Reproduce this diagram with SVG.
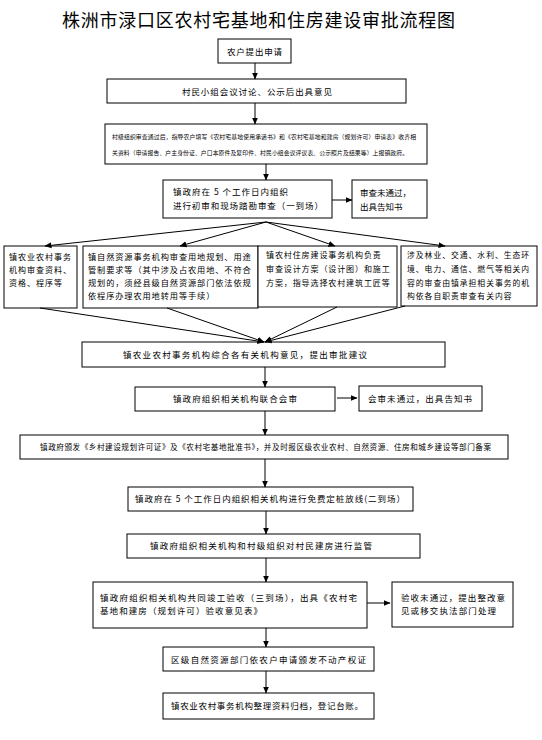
<svg xmlns="http://www.w3.org/2000/svg" width="542" height="740" viewBox="0 0 542 740">
<defs>
<marker id="ah" markerWidth="7" markerHeight="7" refX="6.5" refY="3.5" orient="auto" markerUnits="userSpaceOnUse">
<path d="M0,0.5 L7,3.5 L0,6.5 Z" fill="#000"/>
</marker>
<style>
rect{fill:#fff;stroke:#000;stroke-width:1}
text{font-family:"Noto Sans CJK SC","Noto Sans",sans-serif;font-size:8.5px;fill:#000}
.t{font-size:18px;font-weight:normal}
.s{font-size:5.8px}
.a{font-size:8px;letter-spacing:1px}
.b{font-size:8.2px;letter-spacing:0.9px}
.cc{font-size:8px;letter-spacing:0.9px}
.d{font-size:7.8px;letter-spacing:1px}
.c line{stroke:#000;stroke-width:1;marker-end:url(#ah)}
</style>
</defs>
<rect x="0" y="0" width="542" height="740" style="fill:#fff;stroke:none"/>
<text class="t" x="62" y="27" textLength="393">株洲市渌口区农村宅基地和住房建设审批流程图</text>

<g id="n1"><rect x="218" y="39" width="73" height="24"/><text x="227" y="55" textLength="55">农户提出申请</text></g>
<g id="n2"><rect x="107" y="79" width="299" height="24"/><text x="182" y="95" textLength="150">村民小组会议讨论、公示后出具意见</text></g>
<g id="n3"><rect x="105" y="124" width="322" height="40"/>
<text class="s" x="112" y="139" textLength="304">村级组织审查通过后，指导农户填写《农村宅基地使用承诺书》和《农村宅基地和建房（规划许可）申请表》收齐相</text>
<text class="s" x="112" y="155" textLength="296">关资料（申请报告、户主身份证、户口本原件及复印件、村民小组会议评议表、公示照片及结果等）上报镇政府。</text></g>
<g id="n4"><rect x="163" y="180" width="169" height="38"/>
<text x="173" y="195" textLength="115">镇政府在 5 个工作日内组织</text>
<text x="173" y="209" textLength="150">进行初审和现场踏勘审查（一到场）</text></g>
<g id="n4r"><rect x="352" y="180" width="75" height="38"/>
<text x="360" y="196">审查未通过，</text>
<text x="360" y="210">出具告知书</text></g>

<g id="nA"><rect x="4" y="246" width="73" height="62"/>
<text class="a" x="9" y="260">镇农业农村事务</text>
<text class="a" x="9" y="273">机构审查资料、</text>
<text class="a" x="9" y="286">资格、程序等</text></g>
<g id="nB"><rect x="83" y="246" width="175" height="62"/>
<text class="b" x="88" y="260">镇自然资源事务机构审查用地规划、用途</text>
<text class="b" x="88" y="273">管制要求等（其中涉及占农用地、不符合</text>
<text class="b" x="88" y="286">规划的，须经县级自然资源部门依法依规</text>
<text class="b" x="88" y="299">依程序办理农用地转用等手续）</text></g>
<g id="nC"><rect x="258" y="246" width="139" height="61"/>
<text class="cc" x="266" y="258">镇农村住房建设事务机构负责</text>
<text class="cc" x="266" y="272">审查设计方案（设计图）和施工</text>
<text class="cc" x="266" y="286">方案，指导选择农村建筑工匠等</text></g>
<g id="nD"><rect x="401" y="246" width="136" height="60"/>
<text class="d" x="407" y="258">涉及林业、交通、水利、生态环</text>
<text class="d" x="407" y="272">境、电力、通信、燃气等相关内</text>
<text class="d" x="407" y="286">容的审查由镇承担相关事务的机</text>
<text class="d" x="407" y="299">构依各自职责审查有关内容</text></g>

<g id="n5"><rect x="82" y="342" width="363" height="25"/><text x="123" y="358" textLength="244">镇农业农村事务机构综合各有关机构意见，提出审批建议</text></g>
<g id="n6"><rect x="135" y="387" width="200" height="24"/><text x="173" y="402" textLength="124">镇政府组织相关机构联合会审</text></g>
<g id="n6r"><rect x="359" y="386" width="123" height="25"/><text x="368" y="402" textLength="104">会审未通过，出具告知书</text></g>
<g id="n7"><rect x="20" y="435" width="488" height="24"/><text x="40" y="450" textLength="451" style="font-size:7.6px">镇政府颁发《乡村建设规划许可证》及《农村宅基地批准书》，并及时报区级农业农村、自然资源、住房和城乡建设等部门备案</text></g>
<g id="n8"><rect x="128" y="487" width="285" height="24"/><text x="135" y="502" textLength="270">镇政府在 5 个工作日内组织相关机构进行免费定桩放线(二到场）</text></g>
<g id="n9"><rect x="127" y="534" width="293" height="24"/><text x="150" y="549" textLength="222">镇政府组织相关机构和村级组织对村民建房进行监管</text></g>
<g id="n10"><rect x="93" y="582" width="274" height="46"/>
<text x="100" y="601" textLength="257">镇政府组织相关机构共同竣工验收（三到场），出具《农村宅</text>
<text x="100" y="614" textLength="162">基地和建房（规划许可）验收意见表》</text></g>
<g id="n10r"><rect x="392" y="582" width="121" height="45"/>
<text x="401" y="601" textLength="104">验收未通过，提出整改意</text>
<text x="401" y="614" textLength="95">见或移交执法部门处理</text></g>
<g id="n11"><rect x="163" y="647" width="211" height="24"/><text x="171" y="663" textLength="195">区级自然资源部门依农户申请颁发不动产权证</text></g>
<g id="n12"><rect x="163" y="693" width="211" height="26"/><text x="171" y="709" textLength="192">镇农业农村事务机构整理资料归档，登记台账。</text></g>

<g id="connectors" class="c">
<line x1="255" y1="63" x2="255" y2="79"/>
<line x1="255" y1="103" x2="255" y2="124"/>
<line x1="266" y1="164" x2="266" y2="180"/>
<line x1="332" y1="200" x2="352" y2="200"/>
<line x1="266" y1="222" x2="45" y2="246"/>
<line x1="266" y1="222" x2="180" y2="246"/>
<line x1="266" y1="222" x2="335" y2="246"/>
<line x1="266" y1="222" x2="445" y2="246"/>
<line x1="40" y1="308" x2="264" y2="342"/>
<line x1="167" y1="308" x2="264" y2="342"/>
<line x1="337" y1="307" x2="265" y2="342"/>
<line x1="405" y1="306" x2="265" y2="342"/>
<line x1="265" y1="367" x2="265" y2="387"/>
<line x1="337" y1="398" x2="357" y2="398"/>
<line x1="265" y1="411" x2="265" y2="435"/>
<line x1="265" y1="459" x2="265" y2="487"/>
<line x1="266" y1="511" x2="266" y2="534"/>
<line x1="266" y1="558" x2="266" y2="582"/>
<line x1="367" y1="603" x2="390" y2="603"/>
<line x1="266" y1="628" x2="266" y2="647"/>
<line x1="266" y1="671" x2="266" y2="693"/>
</g>
</svg>
